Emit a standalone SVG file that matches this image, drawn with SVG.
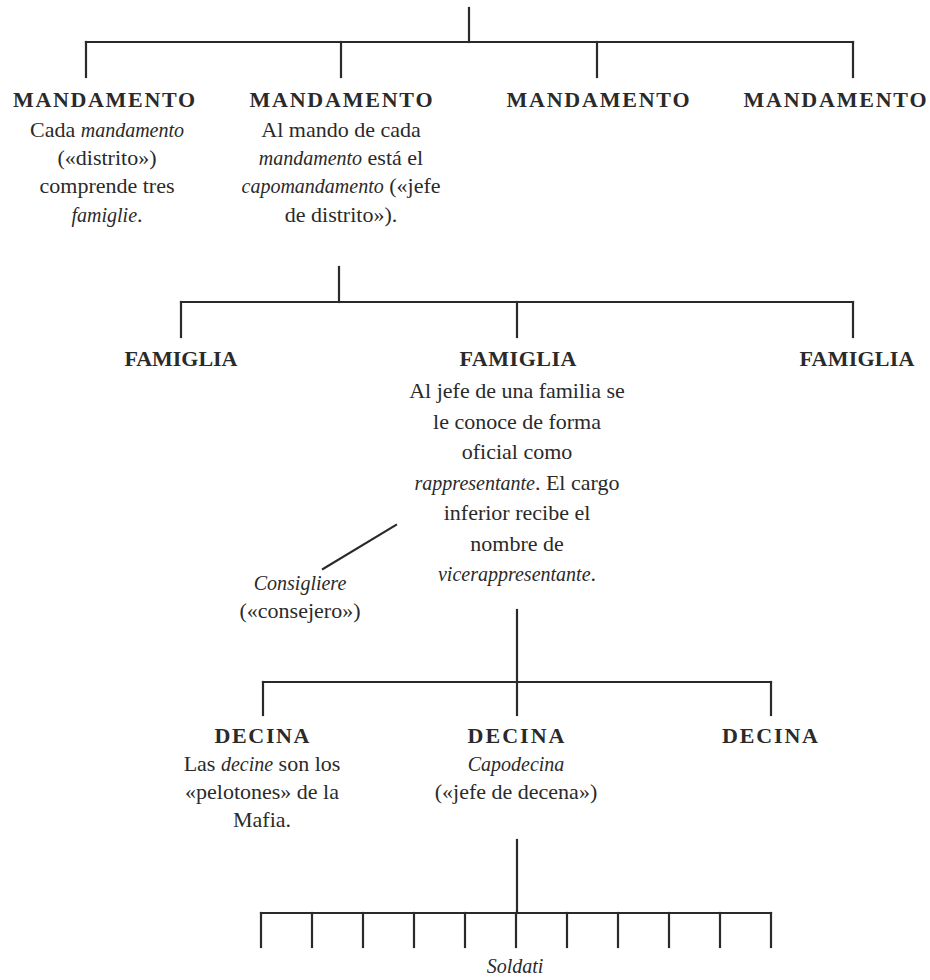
<svg xmlns="http://www.w3.org/2000/svg" width="930" height="980" viewBox="0 0 930 980">
<style>
.t{font-family:"Liberation Serif","Times New Roman",serif;fill:#2a2a2a;text-anchor:middle}
.h{font-size:22px;font-weight:bold}
.b{font-size:22px}
.i{font-style:italic;font-size:20px}
.c line{stroke:#2a2a2a;stroke-width:2.2;stroke-linecap:square;fill:none}
</style>
<rect width="930" height="980" fill="#fff"/>
<g id="connectors" class="c">
<line x1="469" y1="8" x2="469" y2="42"/>
<line x1="86" y1="42" x2="853" y2="42"/>
<line x1="86" y1="42" x2="86" y2="77"/>
<line x1="341" y1="42" x2="341" y2="77"/>
<line x1="597" y1="42" x2="597" y2="77"/>
<line x1="853" y1="42" x2="853" y2="77"/>
<line x1="339" y1="267" x2="339" y2="302"/>
<line x1="181" y1="302" x2="853" y2="302"/>
<line x1="181" y1="302" x2="181" y2="337"/>
<line x1="517" y1="302" x2="517" y2="337"/>
<line x1="853" y1="302" x2="853" y2="337"/>
<line x1="323" y1="569" x2="396" y2="525"/>
<line x1="517" y1="610" x2="517" y2="682"/>
<line x1="263" y1="682" x2="771" y2="682"/>
<line x1="263" y1="682" x2="263" y2="715"/>
<line x1="517" y1="682" x2="517" y2="715"/>
<line x1="771" y1="682" x2="771" y2="715"/>
<line x1="517" y1="840" x2="517" y2="913"/>
<line x1="261" y1="913" x2="771" y2="913"/>
<line x1="261" y1="913" x2="261" y2="947"/>
<line x1="312" y1="913" x2="312" y2="947"/>
<line x1="363" y1="913" x2="363" y2="947"/>
<line x1="414" y1="913" x2="414" y2="947"/>
<line x1="465" y1="913" x2="465" y2="947"/>
<line x1="516" y1="913" x2="516" y2="947"/>
<line x1="567" y1="913" x2="567" y2="947"/>
<line x1="618" y1="913" x2="618" y2="947"/>
<line x1="669" y1="913" x2="669" y2="947"/>
<line x1="720" y1="913" x2="720" y2="947"/>
<line x1="771" y1="913" x2="771" y2="947"/>
</g>
<g id="mandamento1" class="t">
<text class="h" x="104" y="107" textLength="182" lengthAdjust="spacing">MANDAMENTO</text>
<text class="b" x="107" y="137">Cada <tspan class="i">mandamento</tspan></text>
<text class="b" x="107" y="165">(«distrito»)</text>
<text class="b" x="107" y="193">comprende tres</text>
<text class="b" x="107" y="222"><tspan class="i">famiglie</tspan>.</text>
</g>
<g id="mandamento2" class="t">
<text class="h" x="341" y="107" textLength="183" lengthAdjust="spacing">MANDAMENTO</text>
<text class="b" x="341" y="137">Al mando de cada</text>
<text class="b" x="341" y="165"><tspan class="i">mandamento</tspan> está el</text>
<text class="b" x="341" y="193"><tspan class="i">capomandamento</tspan> («jefe</text>
<text class="b" x="341" y="222">de distrito»).</text>
</g>
<g id="mandamento3" class="t">
<text class="h" x="598" y="107" textLength="183" lengthAdjust="spacing">MANDAMENTO</text>
</g>
<g id="mandamento4" class="t">
<text class="h" x="835" y="107" textLength="183" lengthAdjust="spacing">MANDAMENTO</text>
</g>
<g id="famiglia1" class="t">
<text class="h" x="181" y="366" textLength="113" lengthAdjust="spacing">FAMIGLIA</text>
</g>
<g id="famiglia2" class="t">
<text class="h" x="518" y="366" textLength="117" lengthAdjust="spacing">FAMIGLIA</text>
<text class="b" x="517" y="398">Al jefe de una familia se</text>
<text class="b" x="517" y="428.5">le conoce de forma</text>
<text class="b" x="517" y="459">oficial como</text>
<text class="b" x="517" y="489.5"><tspan class="i">rappresentante</tspan>. El cargo</text>
<text class="b" x="517" y="520">inferior recibe el</text>
<text class="b" x="517" y="550.5">nombre de</text>
<text class="b" x="517" y="581"><tspan class="i">vicerappresentante</tspan>.</text>
</g>
<g id="famiglia3" class="t">
<text class="h" x="857" y="366" textLength="115" lengthAdjust="spacing">FAMIGLIA</text>
</g>
<g id="consigliere" class="t">
<text class="b i" x="300" y="590">Consigliere</text>
<text class="b" x="300" y="618">(«consejero»)</text>
</g>
<g id="decina1" class="t">
<text class="h" x="262" y="743" textLength="95" lengthAdjust="spacing">DECINA</text>
<text class="b" x="262" y="771">Las <tspan class="i">decine</tspan> son los</text>
<text class="b" x="262" y="799">«pelotones» de la</text>
<text class="b" x="262" y="827">Mafia.</text>
</g>
<g id="decina2" class="t">
<text class="h" x="516" y="743" textLength="97" lengthAdjust="spacing">DECINA</text>
<text class="b i" x="516" y="771">Capodecina</text>
<text class="b" x="516" y="799">(«jefe de decena»)</text>
</g>
<g id="decina3" class="t">
<text class="h" x="770" y="743" textLength="96" lengthAdjust="spacing">DECINA</text>
</g>
<g id="soldati" class="t">
<text class="b i" x="515" y="973">Soldati</text>
</g>
</svg>
